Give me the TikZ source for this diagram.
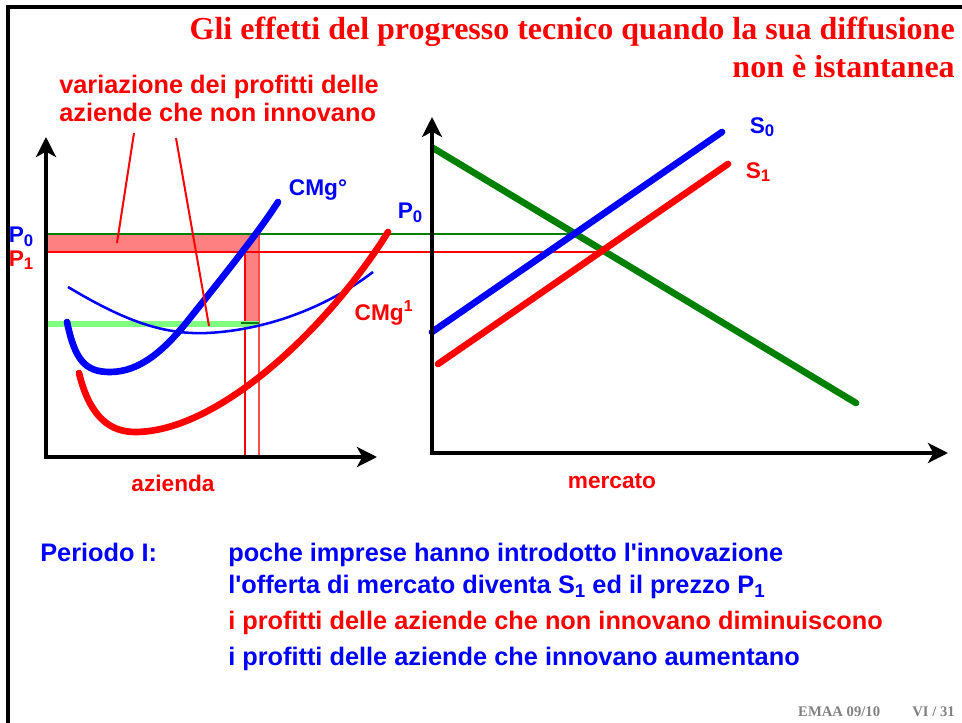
\documentclass[tikz,border=0pt]{standalone}
\usepackage{fontspec}
\usepackage{graphicx}
\setmainfont{Liberation Serif}
\setsansfont{Liberation Sans}
\usetikzlibrary{arrows.meta,positioning}
\definecolor{SlideRed}{RGB}{255,0,0}
\definecolor{SlideBlue}{RGB}{0,0,255}
\definecolor{SlideGreen}{RGB}{0,128,0}
\definecolor{LightGreen}{RGB}{128,255,128}
\definecolor{ProfitFill}{RGB}{255,128,128}
\definecolor{FootGray}{RGB}{128,128,128}
\newcommand\lowsub[1]{\raisebox{-0.3ex}{\scalebox{0.74}{#1}}}
\tikzset{>={Stealth[length=15pt,width=15pt,inset=4pt]},
 axis/.style={line width=3pt,->},
 curve/.style={line width=5pt,line cap=round},
 thincurve/.style={line width=1.9pt},
 lab/.style={font=\sffamily\bfseries\fontsize{17}{20}\selectfont,inner sep=0pt},
 txt/.style={font=\sffamily\bfseries\fontsize{19}{23}\selectfont,inner sep=0pt,anchor=base west},
 ttl/.style={font=\rmfamily\bfseries\fontsize{24}{28}\selectfont,text=SlideRed,inner sep=0pt,anchor=base east}}

\begin{document}
\begin{tikzpicture}[x=0.75pt,y=-0.75pt]
\useasboundingbox (0,0) rectangle (962,723);
% frame
\draw[line width=2.5pt] (8,723) -- (8,7) -- (962,7);
% title
\node[ttl] (title1) at (955,40) {Gli effetti del progresso tecnico quando la sua diffusione};
\node[ttl] (title2) at (955,78) {non è istantanea};
% annotation
\node[txt,text=SlideRed] (note1) at (59,94) {variazione dei profitti delle};
\node[txt,text=SlideRed] (note2) at (59,122) {aziende che non innovano};
% profit area
\fill[ProfitFill] (48,234) -- (259,234) -- (259,323) -- (245,323) -- (245,252) -- (48,252) -- cycle;
\draw[SlideRed,line width=1.2pt] (245,252) -- (245,457);
\draw[SlideRed!70,line width=1.2pt] (259,234) -- (259,457);
\draw[LightGreen,line width=3.8pt] (46,324) -- (259,324);
\draw[SlideGreen,line width=1.2pt] (241,323) -- (259,323);
% price lines
\coordinate (p0a) at (46,234); \coordinate (p0b) at (575,234);
\coordinate (p1a) at (45,252); \coordinate (p1b) at (602,252);
\draw[SlideGreen,line width=1.5pt] (p0a) -- (p0b);
\draw[SlideRed,line width=1.5pt] (p1a) -- (p1b);
% azienda curves
\draw[SlideBlue,thincurve] (68,287) .. controls (120,318) and (160,335) .. (207,333)
 .. controls (270,330) and (330,305) .. (373,272);
\draw[SlideBlue,curve] (67,322) .. controls (75,360) and (85,372) .. (110,372)
 .. controls (140,372) and (165,350) .. (190,318) .. controls (230,268) and (260,230) .. (278,202);
\draw[SlideRed,curve] (79,373) .. controls (88,410) and (105,432) .. (135,432)
 .. controls (220,432) and (330,325) .. (388,232);
% pointers
\draw[SlideRed,line width=1.5pt] (134,133) -- (117,243);
\draw[SlideRed,line width=1.5pt] (176,138) -- (209,326);
% azienda axes
\coordinate (oA) at (46,457); \coordinate (yA) at (46,137); \coordinate (xA) at (377,457);
\draw[axis,<->] (yA) -- (oA) -- (xA);
\node[lab,text=SlideBlue] (cmg0) at (318,190) {CMg°};
\node[lab,text=SlideRed] (cmg1) at (384,313) {CMg\textsuperscript{1}};
\node[lab,text=SlideBlue] (p0L) at (21,237) {P\lowsub{0}};
\node[lab,text=SlideRed] (p1L) at (21,260) {P\lowsub{1}};
\node[lab,text=SlideBlue] (p0R) at (410,213) {P\lowsub{0}};
\node[lab,text=SlideRed] (azienda) at (173,483) {azienda};
% mercato
\draw[SlideGreen,curve] (433,148) -- (856,403);
\draw[SlideBlue,curve] (432,332) -- (722,132);
\draw[SlideRed,curve] (438,364) -- (728,164);
\coordinate (oB) at (432,453); \coordinate (yB) at (432,117); \coordinate (xB) at (948,453);
\draw[axis,<->] (yB) -- (oB) -- (xB);
\node[lab,text=SlideBlue] (s0) at (762,127) {S\lowsub{0}};
\node[lab,text=SlideRed] (s1) at (758,172) {S\lowsub{1}};
\node[lab,text=SlideRed] (mercato) at (612,481) {mercato};
% comments
\node[txt,text=SlideBlue] (periodo) at (40,561) {Periodo I:};
\node[txt,text=SlideBlue] (line1) at (228,561) {poche imprese hanno introdotto l\textquotesingle innovazione};
\node[txt,text=SlideBlue] (line2) at (228,593) {l\textquotesingle offerta di mercato diventa S\lowsub{1} ed il prezzo P\lowsub{1}};
\node[txt,text=SlideRed] (line3) at (228,629) {i profitti delle aziende che non innovano diminuiscono};
\node[txt,text=SlideBlue] (line4) at (228,665) {i profitti delle aziende che innovano aumentano};
\node[font=\rmfamily\bfseries\fontsize{11}{13}\selectfont,text=FootGray,inner sep=0pt,anchor=base east] (foot) at (955,716) {EMAA 09/10\hspace{2.2em}VI / 31};
\end{tikzpicture}
\end{document}
